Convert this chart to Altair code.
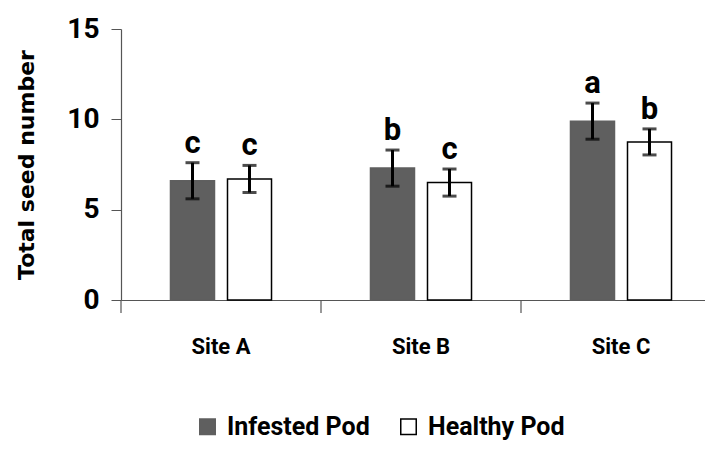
import altair as alt
import pandas as pd

sites = ["Site A", "Site B", "Site C"]
series = ["Infested Pod", "Healthy Pod"]
infested = [6.6, 7.3, 9.9]
infested_err = [1.0, 1.0, 1.0]
healthy = [6.7, 6.5, 8.75]
healthy_err = [0.75, 0.75, 0.72]
letters_inf = ["c", "b", "a"]
letters_hea = ["c", "c", "b"]

rows = []
for i, s in enumerate(sites):
    rows.append(dict(site=s, series=series[0], value=infested[i],
                     lo=infested[i] - infested_err[i], hi=infested[i] + infested_err[i],
                     letter=letters_inf[i]))
    rows.append(dict(site=s, series=series[1], value=healthy[i],
                     lo=healthy[i] - healthy_err[i], hi=healthy[i] + healthy_err[i],
                     letter=letters_hea[i]))
df = pd.DataFrame(rows)

NARROW = "Roboto, sans-serif"
H = 271

legend_kw = dict(title=None, orient="none", legendX=74, legendY=385,
                 direction="horizontal", columns=2, columnPadding=26,
                 symbolType="square", symbolSize=240, symbolStrokeWidth=1.5,
                 labelFont=NARROW, labelFontSize=25, labelFontWeight="bold",
                 labelColor="black", labelOffset=7)

xenc = alt.X("site:N", sort=sites, scale=alt.Scale(paddingInner=0, paddingOuter=0),
             axis=alt.Axis(title=None, ticks=False, labelPadding=36, labelFont=NARROW,
                           labelFontSize=22, labelFontWeight="bold", labelColor="black",
                           labelAngle=0, domainColor="#555", domainWidth=1.2))
xoff = alt.XOffset("series:N", sort=series,
                   scale=alt.Scale(paddingInner=0.228, paddingOuter=0.868))

base = alt.Chart(df)

bars = base.mark_bar(strokeWidth=1.5).encode(
    x=xenc,
    xOffset=xoff,
    y=alt.Y("value:Q", scale=alt.Scale(domain=[0, 15], nice=False),
            axis=alt.Axis(values=[0, 5, 10, 15], title="Total seed number", grid=False,
                          tickSize=10, tickColor="#555", domainColor="#555", domainWidth=1.2,
                          labelFont=NARROW, labelFontSize=28, labelFontWeight="bold",
                          labelColor="black", labelPadding=12,
                          titleFont="DejaVu Sans, sans-serif", titleFontSize=22,
                          titleFontWeight="bold", titleColor="black", titlePadding=28)),
    fill=alt.Fill("series:N", sort=series,
                  scale=alt.Scale(domain=series, range=["#5f5f5f", "#ffffff"]),
                  legend=alt.Legend(**legend_kw)),
    stroke=alt.Stroke("series:N", sort=series,
                      scale=alt.Scale(domain=series, range=["#5f5f5f", "#000000"]),
                      legend=alt.Legend(**legend_kw)),
)

err = base.mark_rule(color="black", strokeWidth=3).encode(
    x=alt.X("site:N", sort=sites), xOffset=xoff, y="lo:Q", y2="hi:Q")
cap_hi = base.mark_tick(color="black", thickness=3, size=14).encode(
    x=alt.X("site:N", sort=sites), xOffset=xoff, y="hi:Q")
cap_lo = base.mark_tick(color="black", thickness=3, size=14).encode(
    x=alt.X("site:N", sort=sites), xOffset=xoff, y="lo:Q")
letters = base.mark_text(font=NARROW, fontSize=31, fontWeight="bold", color="black",
                         baseline="bottom", dy=-3).encode(
    x=alt.X("site:N", sort=sites), xOffset=xoff, y="hi:Q", text="letter:N")

sep = alt.Chart(pd.DataFrame({"site": sites})).mark_rule(color="#555", strokeWidth=1.2).encode(
    x=alt.X("site:N", sort=sites, bandPosition=0),
    y=alt.value(H), y2=alt.value(H + 13))

chart = alt.layer(bars, err, cap_hi, cap_lo, letters, sep).properties(
    width=600, height=H,
    autosize=alt.AutoSizeParams(type="none"),
    padding={"left": 113, "top": 21, "right": -16, "bottom": 140},
).configure_view(stroke=None)

chart.save("out.html", embed_options={"renderer": "svg", "actions": False})
